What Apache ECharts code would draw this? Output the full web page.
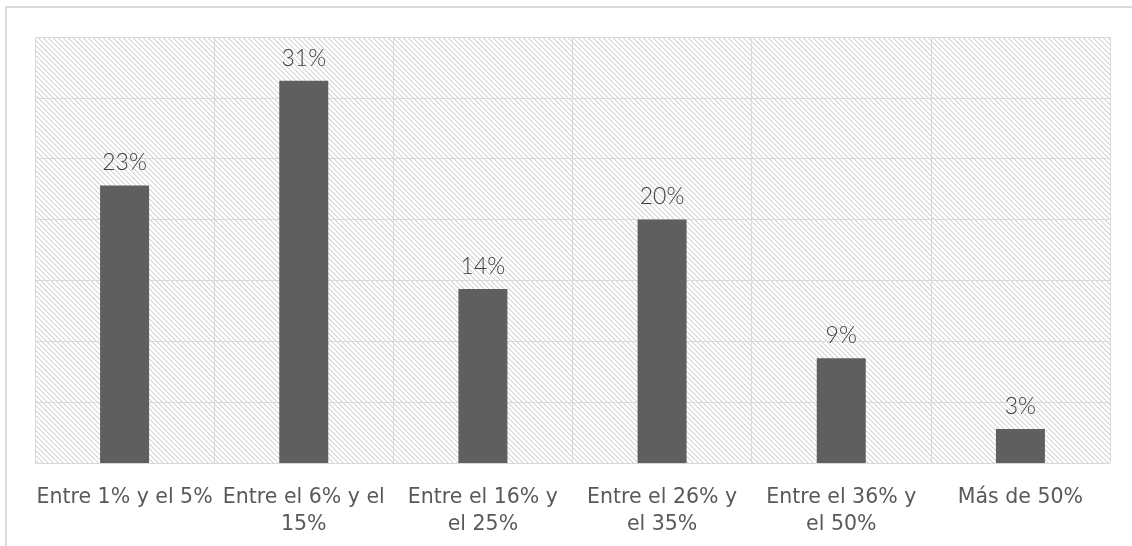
<!DOCTYPE html>
<html>
<head>
<meta charset="utf-8">
<script src="https://cdn.jsdelivr.net/npm/echarts@6/dist/echarts.min.js"></script>
<style>html,body{margin:0;padding:0;background:#fff;}#c{width:1132px;height:546px;}</style>
</head>
<body>
<div id="c"></div>
<script>
const categories = ["Entre 1% y el 5%", "Entre el 6% y el\n15%", "Entre el 16% y\nel 25%", "Entre el 26% y\nel 35%", "Entre el 36% y\nel 50%", "Más de 50%"];
const values = [22.8, 31.4, 14.3, 20.0, 8.6, 2.8];
const valueLabels = ["23%", "31%", "14%", "20%", "9%", "3%"];

function makePattern() {
  const s = 5;
  const cv = document.createElement('canvas');
  cv.width = s; cv.height = s;
  const ctx = cv.getContext('2d');
  ctx.fillStyle = '#ffffff';
  ctx.fillRect(0, 0, s, s);
  ctx.fillStyle = '#d4d4d4';
  for (let i = 0; i < s; i++) ctx.fillRect(i, i, 1, 1);
  ctx.fillStyle = '#ececec';
  for (let i = 0; i < s; i++) ctx.fillRect((i + 1) % s, i, 1, 1);
  return cv;
}

const chart = echarts.init(document.getElementById('c'), null, {renderer: 'canvas'});
chart.setOption({
  animation: false,
  backgroundColor: '#ffffff',
  graphic: [{
    type: 'rect', z: -10, silent: true,
    shape: {x: 6, y: 7, width: 1300, height: 700},
    style: {fill: 'none', stroke: '#d9d9d9', lineWidth: 2}
  }],
  grid: {left: 35, right: 22, top: 37, bottom: 83, show: true,
    backgroundColor: {image: makePattern(), repeat: 'repeat'}, borderWidth: 0},
  xAxis: {
    type: 'category', data: categories,
    axisLine: {show: true, lineStyle: {color: '#d9d9d9', width: 1}},
    axisTick: {show: false},
    splitLine: {show: true, lineStyle: {color: '#d9d9d9', width: 1}},
    axisLabel: {interval: 0, color: '#595959', fontFamily: 'DejaVu Sans', fontSize: 20.5, lineHeight: 27, margin: 21}
  },
  yAxis: {
    type: 'value', min: 0, max: 35, interval: 5,
    axisLabel: {show: false}, axisLine: {show: false}, axisTick: {show: false},
    splitLine: {show: true, lineStyle: {color: '#d9d9d9', width: 1}}
  },
  series: [{
    type: 'bar', data: values, barWidth: 49,
    itemStyle: {color: '#5f5f5f'},
    label: {show: true, position: 'top', distance: 11, color: '#404040', fontFamily: 'Lato', fontWeight: 300, fontSize: 23,
      formatter: p => valueLabels[p.dataIndex]}
  }]
});
</script>
</body>
</html>
